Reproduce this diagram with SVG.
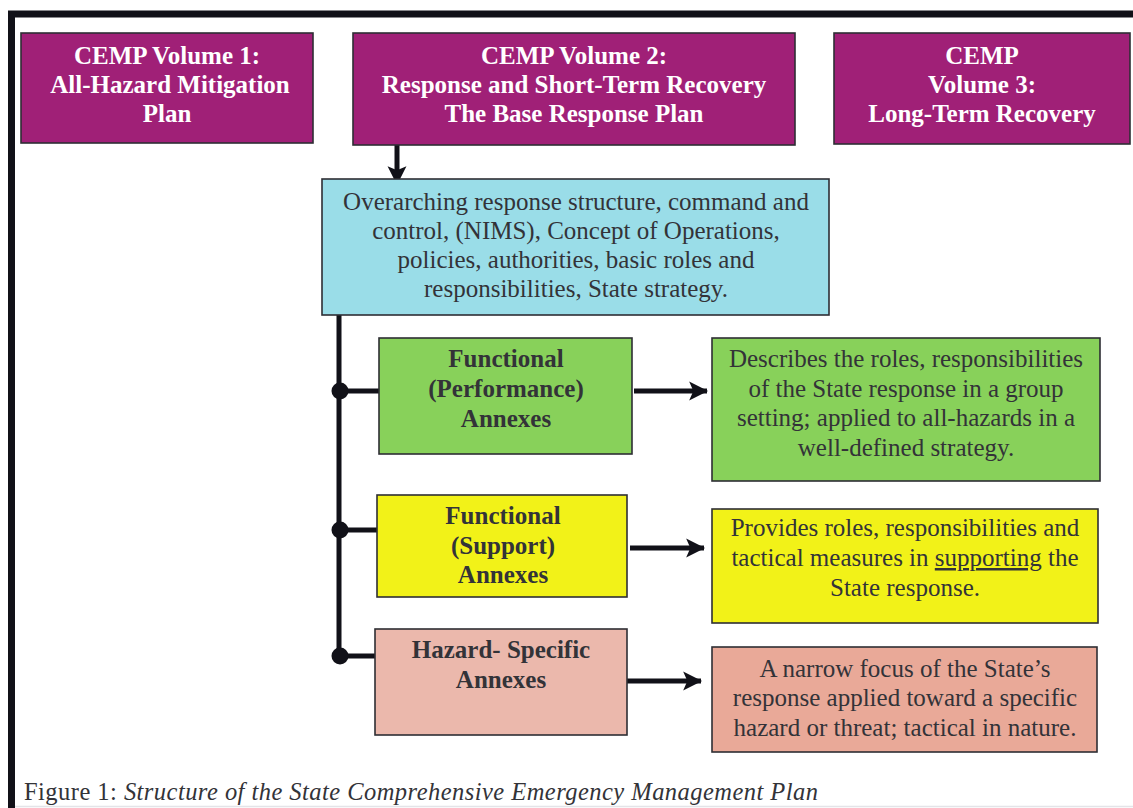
<svg xmlns="http://www.w3.org/2000/svg" width="1133" height="808" viewBox="0 0 1133 808">
<style>
.box{stroke:#2e2e34;stroke-width:1.6}
.vol{fill:#a02077}
.tw{font-family:"Liberation Serif","Times New Roman",serif;font-weight:bold;font-size:25px;fill:#ffffff;text-anchor:middle}
.tb{font-family:"Liberation Serif","Times New Roman",serif;font-weight:bold;font-size:25px;fill:#333338;text-anchor:middle}
.tr{font-family:"Liberation Serif","Times New Roman",serif;font-size:25px;fill:#333338;text-anchor:middle}
.ln{stroke:#111118;stroke-width:5;fill:none}
.dot{fill:#111118}
</style>
<defs>
<marker id="ah" viewBox="0 0 20 20" refX="18" refY="10" markerWidth="21" markerHeight="21" markerUnits="userSpaceOnUse" orient="auto">
<path d="M1,1 L19,10 L1,19 L5,10 Z" fill="#111118"/>
</marker>
</defs>
<rect width="1133" height="808" fill="#ffffff"/>
<g id="frame">
<path d="M11.5,808 V14 H1133" fill="none" stroke="#111118" stroke-width="7"/>
<line x1="15" y1="806.5" x2="1133" y2="806.5" stroke="#e4e4e8" stroke-width="1.5"/>
</g>
<g id="connectors">
<line class="ln" x1="397" y1="145" x2="397" y2="184" marker-end="url(#ah)"/>
<line class="ln" x1="339" y1="315" x2="339" y2="656"/>
<line class="ln" x1="339" y1="391" x2="379" y2="391"/>
<line class="ln" x1="339" y1="530" x2="377" y2="530"/>
<line class="ln" x1="339" y1="656" x2="375" y2="656"/>
<circle class="dot" cx="340" cy="391" r="8.5"/>
<circle class="dot" cx="340" cy="530" r="8.5"/>
<circle class="dot" cx="340" cy="656" r="8.5"/>
<line class="ln" x1="634" y1="391" x2="707" y2="391" marker-end="url(#ah)"/>
<line class="ln" x1="630" y1="548" x2="704" y2="548" marker-end="url(#ah)"/>
<line class="ln" x1="627" y1="681" x2="701" y2="681" marker-end="url(#ah)"/>
</g>
<g id="vol1">
<rect class="box vol" x="21" y="33" width="292" height="110"/>
<text class="tw" x="167" y="64">CEMP Volume 1:</text>
<text class="tw" x="170" y="93">All-Hazard Mitigation</text>
<text class="tw" x="167" y="122">Plan</text>
</g>
<g id="vol2">
<rect class="box vol" x="353" y="33" width="442" height="112"/>
<text class="tw" x="574" y="64">CEMP Volume 2:</text>
<text class="tw" x="574" y="93">Response and Short-Term Recovery</text>
<text class="tw" x="574" y="122">The Base Response Plan</text>
</g>
<g id="vol3">
<rect class="box vol" x="834" y="33" width="296" height="111"/>
<text class="tw" x="982" y="64">CEMP</text>
<text class="tw" x="982" y="93">Volume 3:</text>
<text class="tw" x="982" y="122">Long-Term Recovery</text>
</g>
<g id="base">
<rect class="box" fill="#9adde8" x="322" y="179" width="507" height="136"/>
<text class="tr" x="576" y="210">Overarching response structure, command and</text>
<text class="tr" x="576" y="239">control, (NIMS), Concept of Operations,</text>
<text class="tr" x="576" y="268">policies, authorities, basic roles and</text>
<text class="tr" x="576" y="297">responsibilities, State strategy.</text>
</g>
<g id="performance">
<rect class="box" fill="#88d15a" x="379" y="338" width="253" height="116"/>
<text class="tb" x="506" y="367">Functional</text>
<text class="tb" x="506" y="397">(Performance)</text>
<text class="tb" x="506" y="427">Annexes</text>
</g>
<g id="performance-desc">
<rect class="box" fill="#88d15a" x="712" y="338" width="388" height="143"/>
<text class="tr" x="906" y="367">Describes the roles, responsibilities</text>
<text class="tr" x="906" y="397">of the State response in a group</text>
<text class="tr" x="906" y="426">setting; applied to all-hazards in a</text>
<text class="tr" x="906" y="456">well-defined strategy.</text>
</g>
<g id="support">
<rect class="box" fill="#f2f218" x="377" y="495" width="250" height="102"/>
<text class="tb" x="503" y="524">Functional</text>
<text class="tb" x="503" y="554">(Support)</text>
<text class="tb" x="503" y="583">Annexes</text>
</g>
<g id="support-desc">
<rect class="box" fill="#f2f218" x="712" y="509" width="386" height="114"/>
<text class="tr" x="905" y="536">Provides roles, responsibilities and</text>
<text class="tr" x="905" y="566">tactical measures in <tspan text-decoration="underline">supporting</tspan> the</text>
<text class="tr" x="905" y="596">State response.</text>
</g>
<g id="hazard">
<rect class="box" fill="#ebb8ac" x="375" y="629" width="252" height="106"/>
<text class="tb" x="501" y="658">Hazard- Specific</text>
<text class="tb" x="501" y="688">Annexes</text>
</g>
<g id="hazard-desc">
<rect class="box" fill="#e9a998" x="712" y="647" width="385" height="105"/>
<text class="tr" x="905" y="677">A narrow focus of the State’s</text>
<text class="tr" x="905" y="706">response applied toward a specific</text>
<text class="tr" x="905" y="736">hazard or threat; tactical in nature.</text>
</g>
<g id="caption">
<text x="24" y="800" font-family="'Liberation Serif','Times New Roman',serif" font-size="24.5" fill="#333338" textLength="794" lengthAdjust="spacing">Figure 1: <tspan font-style="italic">Structure of the State Comprehensive Emergency Management Plan</tspan></text>
</g>
</svg>
